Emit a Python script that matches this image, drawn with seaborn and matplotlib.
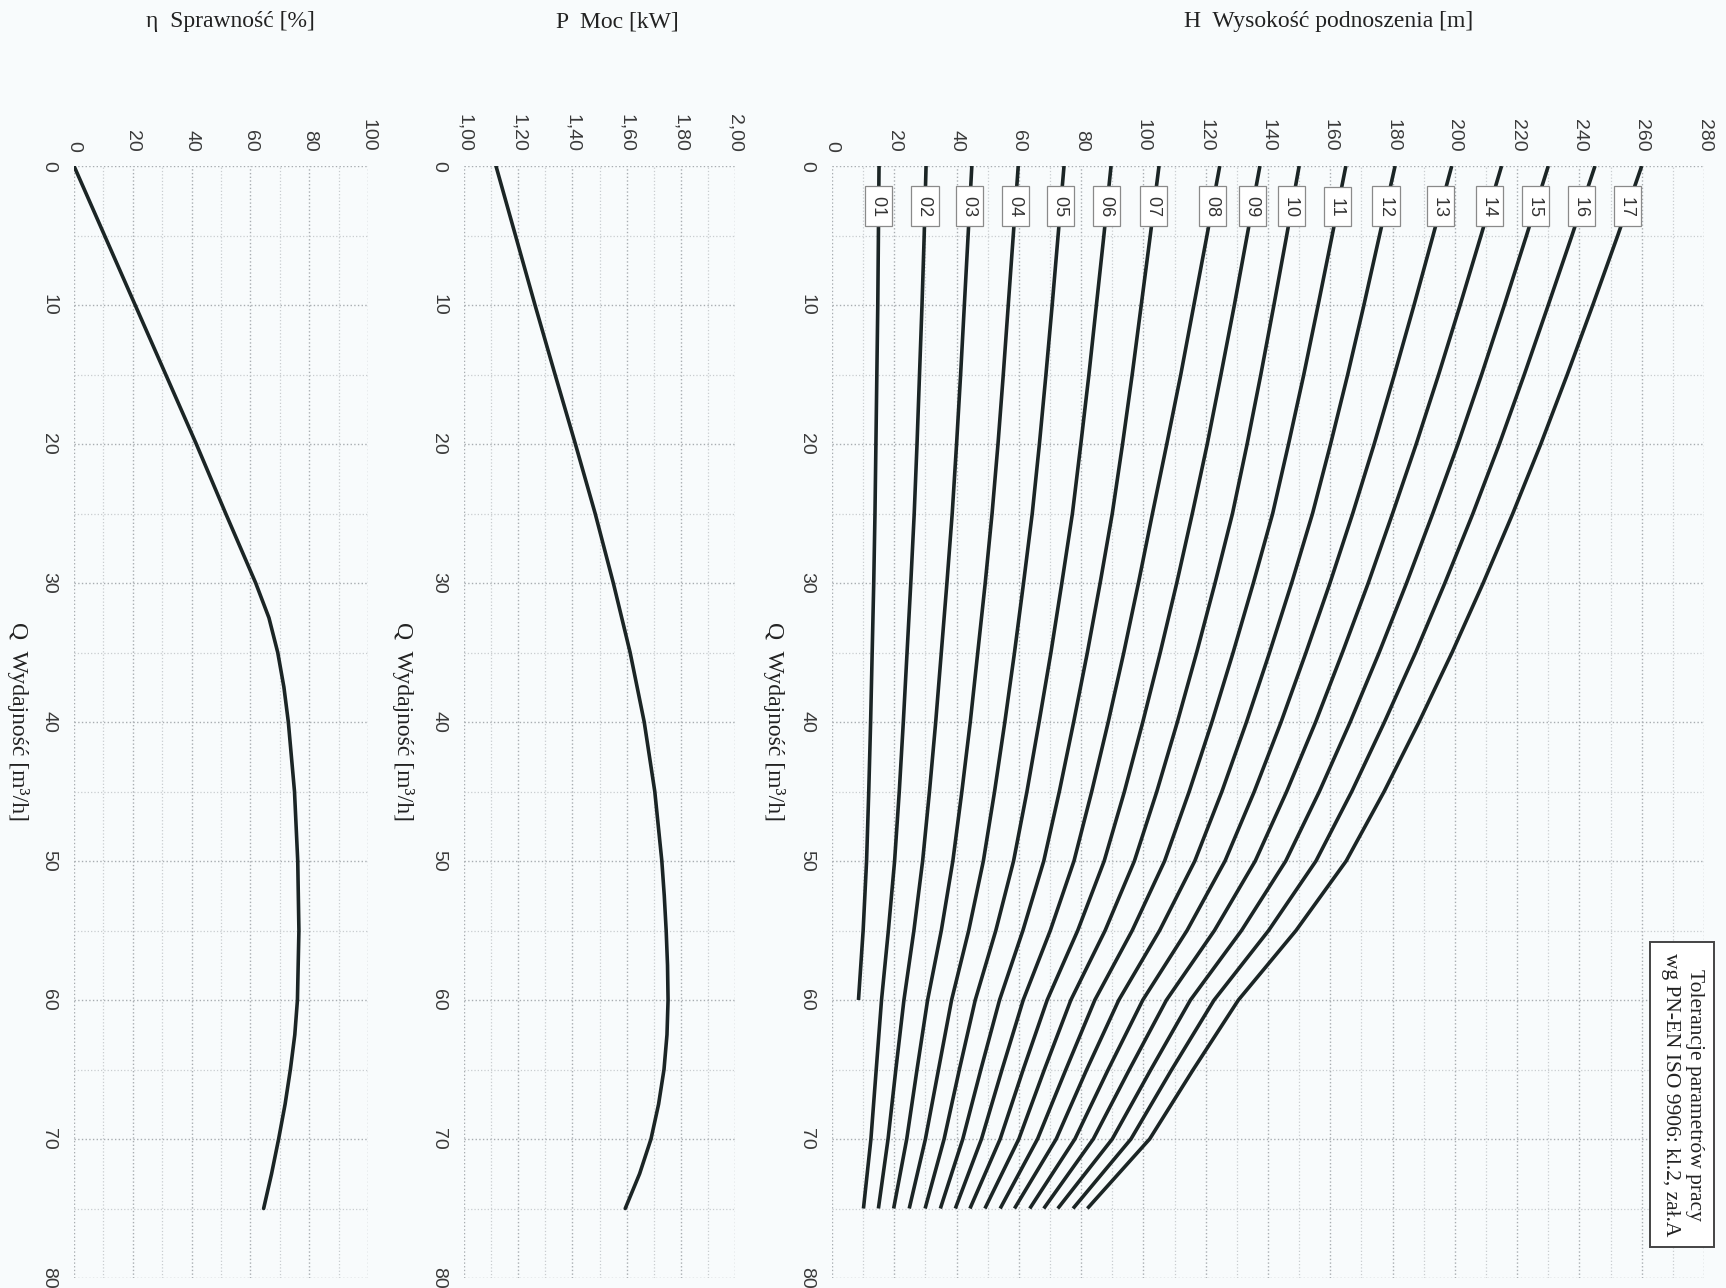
"""
Pump performance chart (rotated layout): efficiency, power and head vs. flow.
"""

import numpy as np
import pandas as pd
import matplotlib
matplotlib.use("Agg")
import matplotlib.pyplot as plt
from matplotlib.ticker import MultipleLocator
import seaborn as sns

# ---- data ----
Q_ETA = [0, 5, 10, 15, 20, 25, 30, 32.5, 35, 37.5, 40, 45, 50, 55, 60,
         62.5, 65, 67.5, 70, 72.5, 75]
ETA = [0, 10.4, 20.8, 31.2, 41.6, 51.6, 61.8, 66.3, 69.3, 71.4, 72.9, 75.0,
       76.1, 76.5, 76.0, 75.1, 73.6, 71.8, 69.6, 67.2, 64.5]

Q_POWER = [0, 5, 10, 15, 20, 25, 30, 35, 40, 45, 50, 52.5, 55, 57.5, 60,
           62.5, 65, 67.5, 70, 72.5, 75]
POWER = [1.118, 1.19, 1.262, 1.336, 1.411, 1.484, 1.551, 1.613, 1.665, 1.704,
         1.730, 1.739, 1.746, 1.751, 1.753, 1.749, 1.738, 1.718, 1.690, 1.648,
         1.595]

Q_HEAD = [0, 5, 10, 15, 20, 25, 30, 35, 40, 45, 50, 55, 60, 65, 70, 75]
STAGE_LABELS = [f"{i:02d}" for i in range(1, 18)]
HEAD = [
    [15.1, 14.9, 14.7, 14.4, 14.1, 13.8, 13.4, 12.9, 12.4, 11.8, 11.1, 10.0, 8.5],
    [30.2, 29.6, 28.9, 28.1, 27.3, 26.4, 25.3, 24.1, 22.9, 21.6, 20.1, 18.1, 15.9, 14.2, 12.5, 10.1],
    [44.9, 43.7, 42.5, 41.3, 40.0, 38.6, 36.9, 35.1, 33.3, 31.3, 29.1, 26.3, 23.1, 20.5, 18.0, 14.9],
    [59.8, 58.2, 56.6, 55.0, 53.3, 51.4, 49.2, 46.8, 44.4, 41.7, 38.8, 35.1, 30.7, 27.3, 24.0, 19.8],
    [74.5, 72.6, 70.7, 68.7, 66.6, 64.3, 61.5, 58.6, 55.5, 52.2, 48.6, 43.9, 38.4, 34.2, 30.0, 24.8],
    [89.6, 87.3, 84.9, 82.5, 79.9, 77.2, 73.8, 70.3, 66.5, 62.6, 58.3, 52.6, 46.0, 40.9, 36.0, 29.9],
    [105.0, 102.2, 99.3, 96.4, 93.3, 90.0, 86.1, 82.0, 77.6, 73.0, 68.0, 61.3, 53.8, 47.8, 42.0, 34.8],
    [124.5, 120.4, 116.2, 112.0, 107.5, 102.9, 98.4, 93.7, 88.7, 83.4, 77.7, 70.1, 61.4, 54.6, 48.0, 39.6],
    [137.4, 133.3, 129.2, 124.9, 120.5, 115.7, 110.7, 105.4, 99.8, 93.9, 87.4, 78.9, 69.1, 61.4, 54.0, 44.3],
    [150.0, 146.0, 141.9, 137.7, 133.3, 128.6, 123.0, 117.1, 110.9, 104.3, 97.1, 87.7, 76.7, 68.2, 60.0, 49.1],
    [165.0, 160.6, 156.1, 151.5, 146.6, 141.5, 135.3, 128.8, 122.0, 114.7, 106.8, 96.4, 84.4, 75.1, 66.0, 54.0],
    [180.8, 175.8, 170.8, 165.6, 160.1, 154.3, 147.6, 140.5, 133.1, 125.2, 116.5, 105.2, 92.1, 81.8, 72.0, 58.6],
    [199.0, 193.0, 186.9, 180.6, 174.1, 167.2, 159.9, 152.2, 144.2, 135.6, 126.2, 114.0, 99.8, 88.7, 78.0, 63.5],
    [215.0, 208.4, 201.7, 194.8, 187.6, 180.0, 172.2, 163.9, 155.3, 146.0, 135.9, 122.8, 107.4, 95.5, 83.9, 68.0],
    [230.0, 223.0, 215.9, 208.6, 201.0, 192.9, 184.5, 175.7, 166.4, 156.5, 145.7, 131.5, 115.1, 102.4, 90.0, 72.5],
    [245.0, 237.6, 230.0, 222.3, 214.3, 205.8, 196.8, 187.4, 177.4, 166.9, 155.4, 140.2, 122.7, 109.1, 96.0, 77.4],
    [260.0, 252.3, 244.3, 236.1, 227.6, 218.6, 209.1, 199.1, 188.5, 177.3, 165.1, 149.0, 130.5, 116.0, 102.0, 82.0],
]

Q_TICKS = list(range(0, 81, 10))
ETA_TICKS = [0, 20, 40, 60, 80, 100]
POWER_TICKS = [1.0, 1.2, 1.4, 1.6, 1.8, 2.0]
POWER_TICK_LABELS = ["1,00", "1,20", "1,40", "1,60", "1,80", "2,00"]
HEAD_TICKS = list(range(0, 281, 20))

Q_LABEL = "Q  Wydajność [m³/h]"
TOLERANCE_NOTE = "Tolerancje parametrów pracy\nwg PN-EN ISO 9906: kl.2, zał.A"

# ---- style ----
BG = "#f8fbfc"
LINE_C = "#1b2525"
TICK_C = "#3a3a3a"
TEXT_C = "#222222"
SANS = ["Liberation Sans", "DejaVu Sans"]

sns.set_theme(style="white")
plt.rcParams["font.family"] = ["Liberation Serif", "DejaVu Serif"]

W, H = 1726, 1288
fig = plt.figure(figsize=(W / 100, H / 100), dpi=100, facecolor=BG)

TOP_PX, BOTTOM_PX = 166, 1278


def add_panel(left_px, right_px):
    return fig.add_axes([left_px / W, 1 - BOTTOM_PX / H,
                         (right_px - left_px) / W, (BOTTOM_PX - TOP_PX) / H])


def style_panel(ax, xlim, xticks, xlabels, minor_step, q_label_x):
    ax.set_facecolor(BG)
    ax.set_xlim(*xlim)
    ax.set_ylim(80, 0)
    ax.xaxis.tick_top()
    ax.set_xticks(xticks)
    ax.set_xticklabels(xlabels, rotation=270, family=SANS, fontsize=14, color=TICK_C)
    ax.xaxis.set_minor_locator(MultipleLocator(minor_step))
    ax.set_yticks(Q_TICKS)
    ax.set_yticklabels([str(q) for q in Q_TICKS], rotation=270, family=SANS,
                       fontsize=14, color=TICK_C, va="center")
    ax.yaxis.set_minor_locator(MultipleLocator(5))
    ax.tick_params(which="both", length=0)
    ax.tick_params(axis="x", pad=10)
    ax.tick_params(axis="y", pad=12)
    ax.grid(which="major", ls=":", color="#a8adb1", lw=1.0)
    ax.grid(which="minor", ls=":", color="#c9cdd0", lw=0.9)
    for s in ax.spines.values():
        s.set_visible(False)
    ax.set_xlabel("")
    ax.set_ylabel("")
    ax.text(q_label_x, 0.5, Q_LABEL, transform=ax.transAxes, rotation=270,
            ha="center", va="center", fontsize=17, color=TEXT_C)


ax_eta = add_panel(74, 368)
ax_pow = add_panel(464, 735)
ax_head = add_panel(832, 1704)

# efficiency
sns.lineplot(x=ETA, y=Q_ETA, sort=False, estimator=None, ax=ax_eta,
             color=LINE_C, linewidth=2.6)
style_panel(ax_eta, (0, 100), ETA_TICKS, [str(t) for t in ETA_TICKS], 10, -0.19)

# power
sns.lineplot(x=POWER, y=Q_POWER, sort=False, estimator=None, ax=ax_pow,
             color=LINE_C, linewidth=2.6)
style_panel(ax_pow, (1.0, 2.0), POWER_TICKS, POWER_TICK_LABELS, 0.1, -0.225)

# head curves, one per number of stages
rows = []
for label, curve in zip(STAGE_LABELS, HEAD):
    for q, h in zip(Q_HEAD, curve):
        rows.append({"stage": label, "Q": q, "H": h})
df_head = pd.DataFrame(rows)

sns.lineplot(data=df_head, x="H", y="Q", units="stage", estimator=None,
             sort=False, ax=ax_head, color=LINE_C, linewidth=2.6,
             solid_capstyle="butt")
style_panel(ax_head, (0, 280), HEAD_TICKS, [str(t) for t in HEAD_TICKS], 10, -0.066)

for label, curve in zip(STAGE_LABELS, HEAD):
    x_lab = np.interp(2.9, Q_HEAD[:len(curve)], curve)
    ax_head.text(x_lab, 2.9, f" {label} ", rotation=270, ha="center", va="center",
                 family=SANS, fontsize=13, color="#333333", zorder=5,
                 bbox=dict(boxstyle="square,pad=0.28", fc="white", ec="#8a8a8a", lw=0.9))

ax_head.text(273, 66.8, TOLERANCE_NOTE, rotation=270, ha="center", va="center",
             multialignment="center", fontsize=15.5, linespacing=1.35, color=TEXT_C,
             zorder=5,
             bbox=dict(boxstyle="square,pad=0.5", fc="white", ec="#444444", lw=1.4))

# panel titles
fig.text(230 / W, 1 - 22 / H, "η  Sprawność [%]", ha="center", va="center",
         fontsize=17, color=TEXT_C)
fig.text(617 / W, 1 - 22 / H, "P  Moc [kW]", ha="center", va="center",
         fontsize=17, color=TEXT_C)
fig.text(1329 / W, 1 - 22 / H, "H  Wysokość podnoszenia [m]", ha="center", va="center",
         fontsize=17, color=TEXT_C)

fig.savefig("out.png", dpi=100, facecolor=BG)
plt.close(fig)
